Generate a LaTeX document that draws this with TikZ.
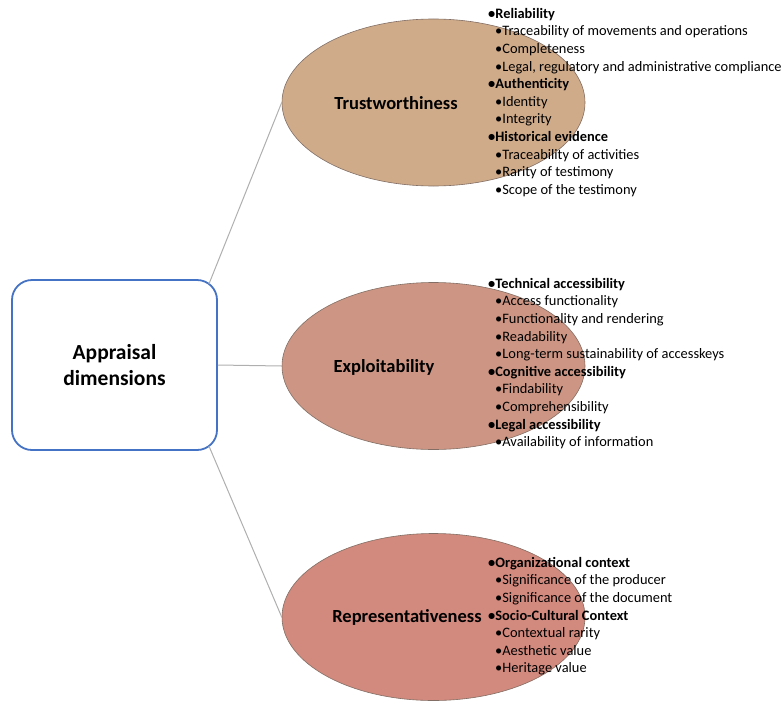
\documentclass[tikz,border=0pt]{standalone}
\usepackage{fontspec}
\setmainfont{Carlito}
\usetikzlibrary{shapes.geometric,calc}
\definecolor{tanA}{RGB}{207,171,138}
\definecolor{tanB}{RGB}{205,150,132}
\definecolor{tanC}{RGB}{210,137,126}
\definecolor{boxblue}{RGB}{68,114,196}
\definecolor{linegray}{RGB}{175,175,175}
\definecolor{edgegray}{RGB}{130,110,100}
\tikzset{
  dimbox/.style={draw=boxblue, line width=1.8pt, rounded corners=20pt, minimum width=205pt, minimum height=170pt, fill=white, align=center, font=\fontsize{21.5}{26}\selectfont\bfseries},
  oval/.style={ellipse, draw=edgegray, line width=0.6pt, minimum width=303pt, minimum height=167pt, inner sep=0pt},
  ovallabel/.style={font=\fontsize{18.5}{22}\selectfont\bfseries, inner sep=0pt},
  link/.style={draw=linegray, line width=1pt},
  itemlist/.style={anchor=north west, align=left, inner sep=0pt, font=\fontsize{14.4}{17.6}\selectfont},
}
\newcommand{\topit}[1]{\textbf{•#1}}
\newcommand{\subit}[1]{\hspace*{7pt}•#1}
\begin{document}
\begin{tikzpicture}[x=1pt,y=-1pt]
\useasboundingbox (0,0) rectangle (783,701);
\node[oval, fill=tanA] (t) at (433.5,102.5) {};
\node[oval, fill=tanB] (e) at (433.5,366) {};
\node[oval, fill=tanC] (r) at (433.5,617) {};
\node[dimbox] (box) at (114.5,365) {Appraisal\\dimensions};
\coordinate (bne) at ($(box.north east)+(-9,5)$);
\coordinate (bse) at ($(box.south east)+(-9,-5)$);
\draw[link] (bne) -- (t.west);
\draw[link] (box.east) -- (e.west);
\draw[link] (bse) -- (r.west);
\node[ovallabel] (tl) at (396,103) {Trustworthiness};
\node[ovallabel] (el) at (384,367) {Exploitability};
\node[ovallabel] (rl) at (407,617) {Representativeness};
\node[itemlist] (tlist) at (488,8) {%
\topit{Reliability}\\
\subit{Traceability of movements and operations}\\
\subit{Completeness}\\
\subit{Legal, regulatory and administrative compliance}\\
\topit{Authenticity}\\
\subit{Identity}\\
\subit{Integrity}\\
\topit{Historical evidence}\\
\subit{Traceability of activities}\\
\subit{Rarity of testimony}\\
\subit{Scope of the testimony}};
\node[itemlist] (elist) at (488,278) {%
\topit{Technical accessibility}\\
\subit{Access functionality}\\
\subit{Functionality and rendering}\\
\subit{Readability}\\
\subit{Long-term sustainability of accesskeys}\\
\topit{Cognitive accessibility}\\
\subit{Findability}\\
\subit{Comprehensibility}\\
\topit{Legal accessibility}\\
\subit{Availability of information}};
\node[itemlist] (rlist) at (488,557) {%
\topit{Organizational context}\\
\subit{Significance of the producer}\\
\subit{Significance of the document}\\
\topit{Socio-Cultural Context}\\
\subit{Contextual rarity}\\
\subit{Aesthetic value}\\
\subit{Heritage value}};
\end{tikzpicture}
\end{document}
